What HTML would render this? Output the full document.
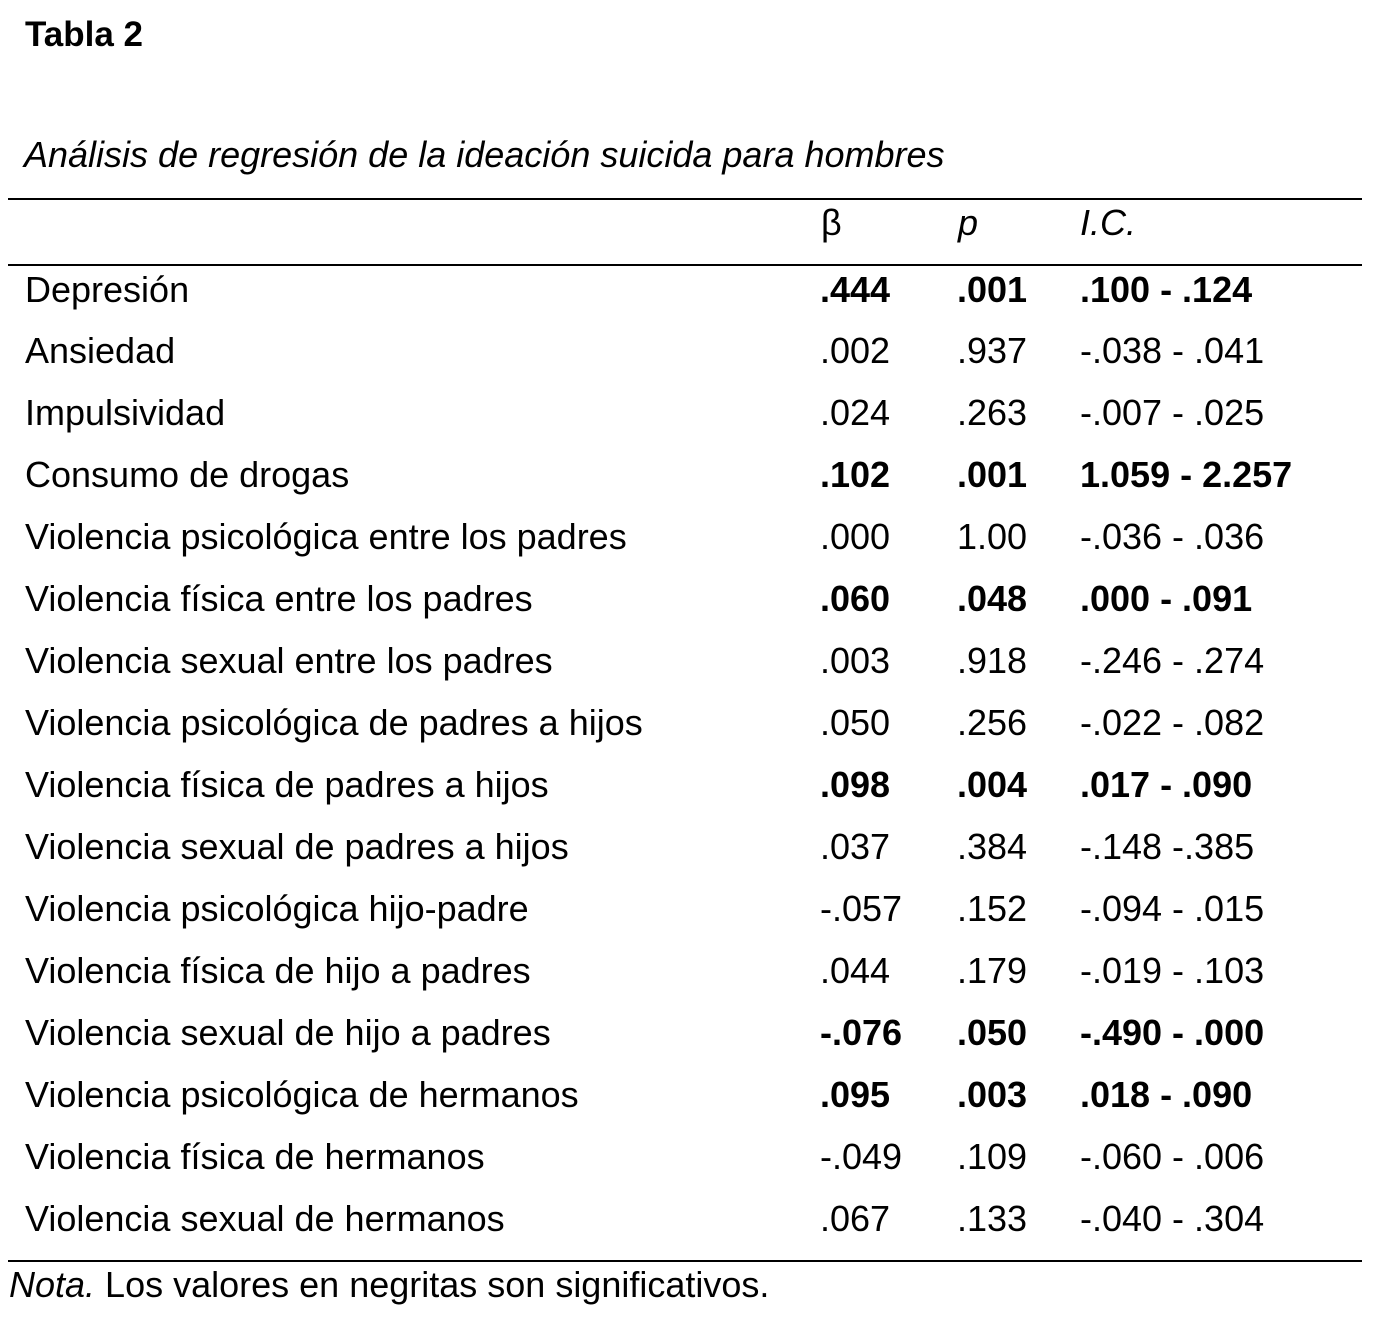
<!DOCTYPE html>
<html>
<head>
<meta charset="utf-8">
<style>
html,body{margin:0;padding:0;background:#fff;}
svg{display:block;}
text{font-family:"Liberation Sans",Arial,sans-serif;font-size:36px;fill:#000;}
.b{font-weight:bold;}
.i{font-style:italic;}
</style>
</head>
<body>
<svg width="1380" height="1320" viewBox="0 0 1380 1320" xmlns="http://www.w3.org/2000/svg">
<rect x="0" y="0" width="1380" height="1320" fill="#fff"/>
<text x="25" y="46" class="b" style="font-size:35px">Tabla 2</text>
<text x="24" y="167" class="i">Análisis de regresión de la ideación suicida para hombres</text>
<rect x="8" y="198" width="1354" height="2" fill="#000"/>
<text x="821" y="235">β</text>
<text x="958" y="235" class="i">p</text>
<text x="1080" y="235" class="i">I.C.</text>
<rect x="8" y="264" width="1354" height="2" fill="#000"/>

<g>
<text x="25" y="302">Depresión</text>
<text x="820" y="302" class="b">.444</text><text x="957" y="302" class="b">.001</text><text x="1080" y="302" class="b">.100 - .124</text>

<text x="25" y="363">Ansiedad</text>
<text x="820" y="363">.002</text><text x="957" y="363">.937</text><text x="1080" y="363">-.038 - .041</text>

<text x="25" y="425">Impulsividad</text>
<text x="820" y="425">.024</text><text x="957" y="425">.263</text><text x="1080" y="425">-.007 - .025</text>

<text x="25" y="487">Consumo de drogas</text>
<text x="820" y="487" class="b">.102</text><text x="957" y="487" class="b">.001</text><text x="1080" y="487" class="b">1.059 - 2.257</text>

<text x="25" y="549">Violencia psicológica entre los padres</text>
<text x="820" y="549">.000</text><text x="957" y="549">1.00</text><text x="1080" y="549">-.036 - .036</text>

<text x="25" y="611">Violencia física entre los padres</text>
<text x="820" y="611" class="b">.060</text><text x="957" y="611" class="b">.048</text><text x="1080" y="611" class="b">.000 - .091</text>

<text x="25" y="673">Violencia sexual entre los padres</text>
<text x="820" y="673">.003</text><text x="957" y="673">.918</text><text x="1080" y="673">-.246 - .274</text>

<text x="25" y="735">Violencia psicológica de padres a hijos</text>
<text x="820" y="735">.050</text><text x="957" y="735">.256</text><text x="1080" y="735">-.022 - .082</text>

<text x="25" y="797">Violencia física de padres a hijos</text>
<text x="820" y="797" class="b">.098</text><text x="957" y="797" class="b">.004</text><text x="1080" y="797" class="b">.017 - .090</text>

<text x="25" y="859">Violencia sexual de padres a hijos</text>
<text x="820" y="859">.037</text><text x="957" y="859">.384</text><text x="1080" y="859">-.148 -.385</text>

<text x="25" y="921">Violencia psicológica hijo-padre</text>
<text x="820" y="921">-.057</text><text x="957" y="921">.152</text><text x="1080" y="921">-.094 - .015</text>

<text x="25" y="983">Violencia física de hijo a padres</text>
<text x="820" y="983">.044</text><text x="957" y="983">.179</text><text x="1080" y="983">-.019 - .103</text>

<text x="25" y="1045">Violencia sexual de hijo a padres</text>
<text x="820" y="1045" class="b">-.076</text><text x="957" y="1045" class="b">.050</text><text x="1080" y="1045" class="b">-.490 - .000</text>

<text x="25" y="1107">Violencia psicológica de hermanos</text>
<text x="820" y="1107" class="b">.095</text><text x="957" y="1107" class="b">.003</text><text x="1080" y="1107" class="b">.018 - .090</text>

<text x="25" y="1169">Violencia física de hermanos</text>
<text x="820" y="1169">-.049</text><text x="957" y="1169">.109</text><text x="1080" y="1169">-.060 - .006</text>

<text x="25" y="1231">Violencia sexual de hermanos</text>
<text x="820" y="1231">.067</text><text x="957" y="1231">.133</text><text x="1080" y="1231">-.040 - .304</text>
</g>

<rect x="8" y="1260" width="1354" height="2" fill="#000"/>
<text x="9" y="1297"><tspan class="i">Nota.</tspan> Los valores en negritas son significativos.</text>
</svg>
</body>
</html>
